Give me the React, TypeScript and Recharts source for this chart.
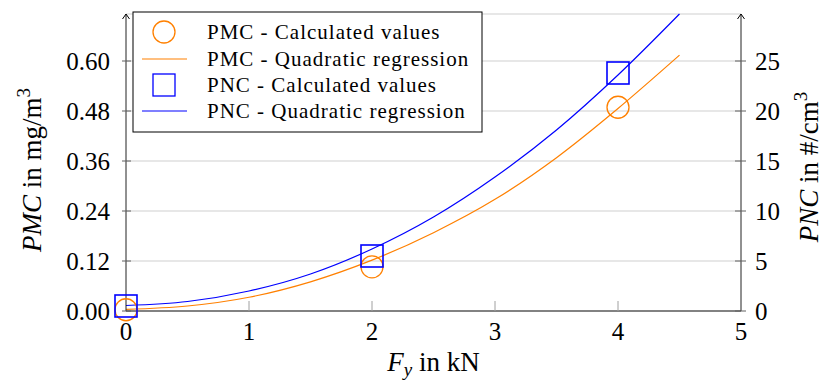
import {
  ComposedChart,
  Line,
  Scatter,
  XAxis,
  YAxis,
  CartesianGrid,
  ReferenceDot,
} from "recharts";

const FY_TICKS = [0, 1, 2, 3, 4, 5];
const PMC_TICKS = [0, 0.12, 0.24, 0.36, 0.48, 0.6];
const PNC_TICKS = [0, 5, 10, 15, 20, 25];
const PMC_MAX = 0.7128;
const PNC_MAX = 29.7;

// measured points
const calcFy = [0, 2, 4];
const pmcCalc = [0.003, 0.106, 0.489];
const pncCalc = [0.5, 5.5, 23.8];

// regression curves
const fitFy = [0, 0.5, 1, 1.5, 2, 2.5, 3, 3.5, 4, 4.5];
const pmcFit = [0.004, 0.012, 0.033, 0.07, 0.122, 0.188, 0.268, 0.368, 0.486, 0.614];
const pncFit = [0.55, 0.95, 2.0, 3.7, 6.2, 9.4, 13.4, 18.1, 23.6, 29.7];

const legendNames = [
  "PMC - Calculated values",
  "PMC - Quadratic regression",
  "PNC - Calculated values",
  "PNC - Quadratic regression",
];

const ORANGE = "#ff8000";
const BLUE = "#0000ff";
const FONT = "'Liberation Serif', 'Times New Roman', serif";

const pmcCalcData = calcFy.map((x, i) => ({ x, y: pmcCalc[i] }));
const pncCalcData = calcFy.map((x, i) => ({ x, y: pncCalc[i] }));
const pmcFitData = fitFy.map((x, i) => ({ x, y: pmcFit[i] }));
const pncFitData = fitFy.map((x, i) => ({ x, y: pncFit[i] }));

function XTick(props: any) {
  const { x, y, payload } = props;
  const v = payload.value;
  return (
    <g>
      {v > 0 && v < 5 && (
        <line x1={x} x2={x} y1={y} y2={y - 10} stroke="#a0a0a0" />
      )}
      <text x={x} y={y + 29} textAnchor="middle" fontFamily={FONT} fontSize={25} fill="#000">
        {v}
      </text>
    </g>
  );
}

function LeftTick(props: any) {
  const { x, y, payload } = props;
  return (
    <g>
      <line x1={x - 4} x2={x + 5} y1={y} y2={y} stroke="#606060" />
      <text x={x - 16} y={y} dy="0.34em" textAnchor="end" fontFamily={FONT} fontSize={25} fill="#000">
        {payload.value.toFixed(2)}
      </text>
    </g>
  );
}

function RightTick(props: any) {
  const { x, y, payload } = props;
  return (
    <g>
      <line x1={x - 6} x2={x + 5} y1={y} y2={y} stroke="#606060" />
      <text x={x + 14} y={y} dy="0.34em" textAnchor="start" fontFamily={FONT} fontSize={25} fill="#000">
        {payload.value}
      </text>
    </g>
  );
}

function XTitle(props: any) {
  const vb = props.viewBox;
  const cx = vb.x + vb.width / 2;
  return (
    <text x={cx} y={vb.y + 60} textAnchor="middle" fontFamily={FONT} fontSize={27} fill="#000">
      <tspan fontStyle="italic">F</tspan>
      <tspan fontStyle="italic" fontSize={19} dy={5}>y</tspan>
      <tspan dy={-5}> in kN</tspan>
    </text>
  );
}

function LeftTitle(props: any) {
  const vb = props.viewBox;
  const bx = vb.x + 41;
  const cy = 170;
  return (
    <text x={bx} y={cy} transform={`rotate(-90, ${bx}, ${cy})`} textAnchor="middle" fontFamily={FONT} fontSize={27} fill="#000">
      <tspan fontStyle="italic">PMC</tspan>
      <tspan> in mg/m</tspan>
      <tspan fontSize={19} dy={-11}>3</tspan>
    </text>
  );
}

function RightTitle(props: any) {
  const vb = props.viewBox;
  const bx = vb.x + 77;
  const cy = 167;
  return (
    <text x={bx} y={cy} transform={`rotate(-90, ${bx}, ${cy})`} textAnchor="middle" fontFamily={FONT} fontSize={27} fill="#000">
      <tspan fontStyle="italic">PNC</tspan>
      <tspan> in #/cm</tspan>
      <tspan fontSize={19} dy={-11}>3</tspan>
    </text>
  );
}

const circleShape = (p: any) => (
  <circle cx={p.cx} cy={p.cy} r={11} fill="none" stroke={ORANGE} strokeWidth={1.3} />
);
const squareShape = (p: any) => (
  <rect x={p.cx - 11} y={p.cy - 11} width={22} height={22} fill="none" stroke={BLUE} strokeWidth={1.6} />
);
const arrowShape = (p: any) => (
  <path d={`M${p.cx - 3.5},${p.cy + 5} L${p.cx},${p.cy} L${p.cx + 3.5},${p.cy + 5}`} fill="none" stroke="#000" strokeWidth={1} />
);

function LegendBox() {
  const rowY = [32, 59, 85, 111];
  return (
    <svg
      width={352}
      height={122}
      style={{ position: "absolute", left: 132, top: 11 }}
    >
      <rect x={1} y={1} width={349} height={120} fill="#fff" stroke="#000" strokeWidth={1} />
      {legendNames.map((name, i) => {
        const y = rowY[i] - 11;
        const color = i < 2 ? ORANGE : BLUE;
        let sym;
        if (i === 0) sym = <circle cx={32} cy={y} r={11} fill="none" stroke={color} strokeWidth={1.3} />;
        else if (i === 2) sym = <rect x={21} y={y - 11} width={22} height={22} fill="none" stroke={color} strokeWidth={1.3} />;
        else sym = <line x1={10} x2={55} y1={y} y2={y} stroke={color} strokeWidth={1.2} />;
        return (
          <g key={name}>
            {sym}
            <text x={75} y={y} dy="0.34em" fontFamily={FONT} fontSize={21} letterSpacing={1} fill="#000">
              {name}
            </text>
          </g>
        );
      })}
    </svg>
  );
}

export default function App() {
  return (
    <div style={{ position: "absolute", left: 0, top: 0, width: 824, height: 387, background: "#fff" }}>
      <ComposedChart width={824} height={387} margin={{ top: 14, right: 0, bottom: 0, left: 0 }}>
        <CartesianGrid yAxisId="left" vertical={false} stroke="#cfcfcf" strokeWidth={1.2} />
        <XAxis
          type="number"
          dataKey="x"
          domain={[0, 5]}
          ticks={FY_TICKS}
          height={76}
          axisLine={{ stroke: "#606060", strokeWidth: 1.6 }}
          tickLine={false}
          tickSize={0}
          tickMargin={0}
          tick={<XTick />}
          label={<XTitle />}
        />
        <YAxis
          yAxisId="left"
          type="number"
          domain={[0, PMC_MAX]}
          ticks={PMC_TICKS}
          width={126}
          axisLine={{ stroke: "#222", strokeWidth: 1 }}
          tickLine={false}
          tickSize={0}
          tickMargin={0}
          tick={<LeftTick />}
          label={<LeftTitle />}
        />
        <YAxis
          yAxisId="right"
          orientation="right"
          type="number"
          domain={[0, PNC_MAX]}
          ticks={PNC_TICKS}
          width={83}
          axisLine={{ stroke: "#222", strokeWidth: 1 }}
          tickLine={false}
          tickSize={0}
          tickMargin={0}
          tick={<RightTick />}
          label={<RightTitle />}
        />
        <Scatter yAxisId="left" data={pmcCalcData} dataKey="y" shape={circleShape} isAnimationActive={false} />
        <Line yAxisId="left" data={pmcFitData} dataKey="y" type="monotone" dot={false} stroke={ORANGE} strokeWidth={1.2} isAnimationActive={false} />
        <Scatter yAxisId="right" data={pncCalcData} dataKey="y" shape={squareShape} isAnimationActive={false} />
        <Line yAxisId="right" data={pncFitData} dataKey="y" type="monotone" dot={false} stroke={BLUE} strokeWidth={1.2} isAnimationActive={false} />
        <ReferenceDot yAxisId="left" x={0} y={PMC_MAX} shape={arrowShape} />
        <ReferenceDot yAxisId="right" x={5} y={PNC_MAX} shape={arrowShape} />
      </ComposedChart>
      <LegendBox />
    </div>
  );
}
